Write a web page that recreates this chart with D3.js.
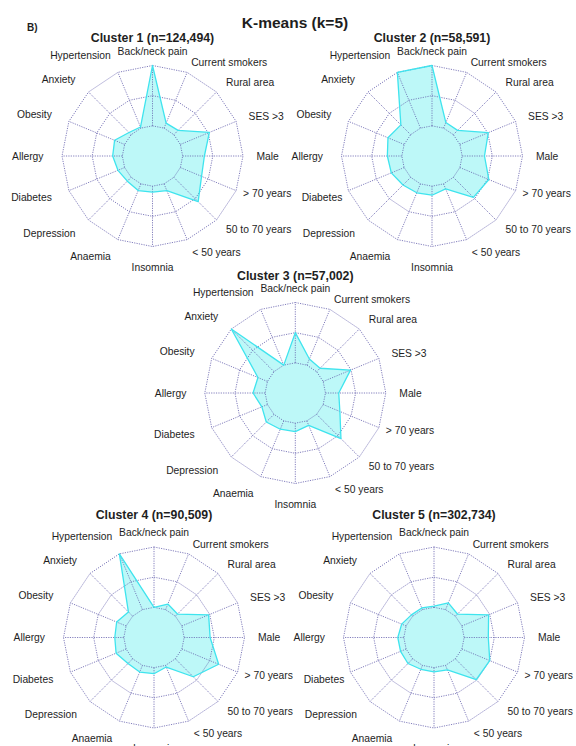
<!DOCTYPE html>
<html>
<head>
<meta charset="utf-8">
<script src="https://cdn.jsdelivr.net/npm/d3@7"></script>
<style>
  body { margin: 0; background: #fff; }
  text { font-family: "Liberation Sans", Arial, Helvetica, sans-serif; fill: #1e1e1e; }
</style>
</head>
<body>
<svg id="chart" width="576" height="746"></svg>
<script>
// Radar axes, clockwise from the top
const axes = [
  "Back/neck pain", "Current smokers", "Rural area", "SES >3", "Male",
  "> 70 years", "50 to 70 years", "< 50 years", "Insomnia", "Anaemia",
  "Depression", "Diabetes", "Allergy", "Obesity", "Anxiety", "Hypertension"
];

const clusterTitles = [
  "Cluster 1 (n=124,494)", "Cluster 2 (n=58,591)", "Cluster 3 (n=57,002)",
  "Cluster 4 (n=90,509)", "Cluster 5 (n=302,734)"
];

// Scaled cluster profiles (0 = inner ring, 1 = outer ring), same order as axes
const cluster1 = [1.00, 0.09, 0.10, 0.52, 0.36, 0.38, 0.57, 0.12, 0.10, 0.12, 0.09, 0.12, 0.16, 0.18, 0.05, 0.02];
const cluster2 = [1.00, 0.10, 0.10, 0.51, 0.37, 0.52, 0.47, 0.09, 0.15, 0.16, 0.18, 0.23, 0.24, 0.29, 0.23, 1.00];
const cluster3 = [0.50, 0.11, 0.08, 0.49, 0.22, 0.30, 0.57, 0.08, 0.14, 0.15, 0.18, 0.10, 0.20, 0.17, 1.00, 0.00];
const cluster4 = [0.00, 0.10, 0.05, 0.48, 0.43, 0.66, 0.42, 0.03, 0.10, 0.12, 0.11, 0.18, 0.15, 0.17, 0.10, 1.00];
const cluster5 = [0.02, 0.12, 0.05, 0.48, 0.40, 0.50, 0.49, 0.08, 0.07, 0.07, 0.11, 0.10, 0.10, 0.08, 0.03, 0.03];

const clusters = [cluster1, cluster2, cluster3, cluster4, cluster5];

// Grid rings drawn at these scaled levels
const gridLevels = [0, 0.5, 1];

const mainTitle = "K-means (k=5)";
const panelTag = "B)";

const svg = d3.select("#chart");

// Panel placement: radar centre, title baseline, and an inward shift of the
// "Diabetes" label for panels whose left side sits next to another panel
const panels = [
  { cx: 152.5, cy: 156,   ty: 41.5, diabetesShift: 0 },
  { cx: 432,   cy: 156,   ty: 41.5, diabetesShift: 11 },
  { cx: 295.3, cy: 393,   ty: 280,  diabetesShift: 0 },
  { cx: 154,   cy: 637.5, ty: 519,  diabetesShift: 0 },
  { cx: 434,   cy: 637.5, ty: 519,  diabetesShift: 11 }
];

const R = 90.5;
const r = d3.scaleLinear().domain([0, 1]).range([R / 3, R]);
const step = 2 * Math.PI / axes.length;
const angle = i => i * step;

const gridColor = "#7570b6";

// distance of each label anchor from the radar centre
function labelRadius(i) {
  const s = Math.sin(angle(i)), c = Math.cos(angle(i));
  if (Math.abs(s) < 0.01) return c > 0 ? 105 : 111;
  if (i === 5) return 98;
  if (i === 1) return 101;
  return s > 0 ? 104 : 109;
}

svg.append("text")
  .attr("x", 27).attr("y", 30.5)
  .attr("font-size", 10).attr("font-weight", "bold")
  .text(panelTag);

svg.append("text")
  .attr("x", 295).attr("y", 27.5)
  .attr("text-anchor", "middle")
  .attr("font-size", 15.5).attr("font-weight", "bold")
  .text(mainTitle);

const ringLine = d3.lineRadial()
  .angle((d, i) => angle(i))
  .radius(d => d)
  .curve(d3.curveLinearClosed);

const dataLine = d3.lineRadial()
  .angle((d, i) => angle(i))
  .radius(d => r(d))
  .curve(d3.curveLinearClosed);

clusters.forEach((values, k) => {
  const p = panels[k];
  const g = svg.append("g").attr("transform", `translate(${p.cx},${p.cy})`);

  // title
  svg.append("text")
    .attr("x", p.cx).attr("y", p.ty)
    .attr("text-anchor", "middle")
    .attr("font-size", 12.3).attr("font-weight", "bold")
    .text(clusterTitles[k]);

  // data area (fill under the grid)
  g.append("path")
    .attr("d", dataLine(values))
    .attr("fill", "#c8fafa")
    .attr("stroke", "none");

  // spokes
  g.selectAll(".spoke").data(axes).join("line")
    .attr("x1", (d, i) => r(0) * Math.sin(angle(i)))
    .attr("y1", (d, i) => -r(0) * Math.cos(angle(i)))
    .attr("x2", (d, i) => r(1) * Math.sin(angle(i)))
    .attr("y2", (d, i) => -r(1) * Math.cos(angle(i)))
    .attr("stroke", gridColor)
    .attr("stroke-width", 0.9)
    .attr("stroke-dasharray", "1.2,1.2");

  // rings
  g.selectAll(".ring").data(gridLevels).join("path")
    .attr("d", lv => ringLine(axes.map(() => r(lv))))
    .attr("fill", "none")
    .attr("stroke", gridColor)
    .attr("stroke-width", 0.9)
    .attr("stroke-dasharray", "1.2,1.2");

  // data outline
  g.append("path")
    .attr("d", dataLine(values))
    .attr("fill", "#00e0e0")
    .attr("fill-opacity", 0.05)
    .attr("stroke", "#3fe4ee")
    .attr("stroke-width", 1.3)
    .attr("stroke-linejoin", "round");

  // axis labels
  g.selectAll(".lab").data(axes).join("text")
    .attr("x", (d, i) => {
      let x = labelRadius(i) * Math.sin(angle(i));
      if (d === "Diabetes") x += p.diabetesShift;
      return x;
    })
    .attr("y", (d, i) => -labelRadius(i) * Math.cos(angle(i)))
    .attr("dy", "0.35em")
    .attr("text-anchor", (d, i) => {
      const s = Math.sin(angle(i));
      return Math.abs(s) < 0.01 ? "middle" : (s > 0 ? "start" : "end");
    })
    .attr("font-size", 10.3)
    .text(d => d);
});
</script>
</body>
</html>
